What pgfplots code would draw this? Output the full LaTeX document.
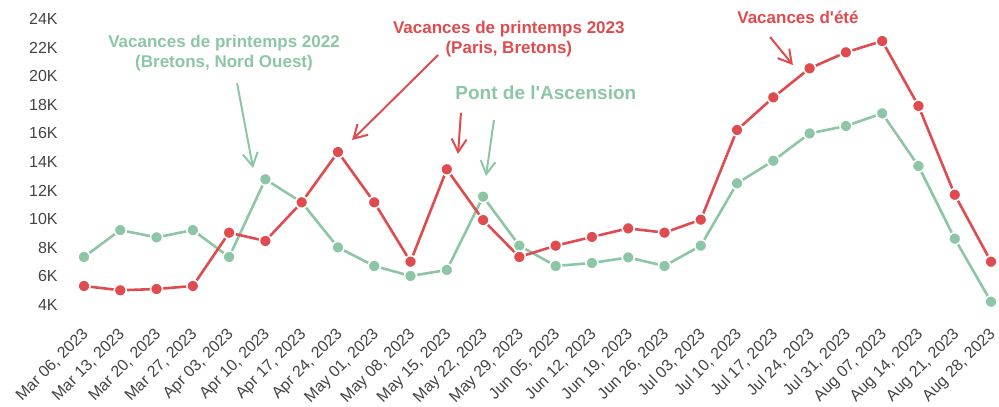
\documentclass[border=0pt]{standalone}
\usepackage{pgfplots}
\usepackage{pgfplotstable}
\pgfplotsset{compat=1.18}
\usepackage{fontspec}
\setmainfont{Liberation Sans}[Ligatures=TeXOff]
\usetikzlibrary{arrows.meta}
\definecolor{cred}{HTML}{E04B4F}
\definecolor{cgreen}{HTML}{8DC6A5}
\definecolor{ctick}{HTML}{444444}

\pgfplotstableread{
i green red
0 7360 5330
1 9240 5030
2 8730 5120
3 9240 5330
4 7360 9060
5 12790 8480
6 11180 11180
7 8030 14700
8 6730 11180
9 6030 7030
10 6450 13490
11 11580 9940
12 8150 7360
13 6730 8150
14 6940 8760
15 7330 9360
16 6730 9060
17 8150 9970
18 12510 16240
19 14090 18520
20 16000 20550
21 16520 21670
22 17400 22460
23 13720 17920
24 8640 11710
25 4230 7030
}\datatable

\tikzset{annarrow/.style={line width=2bp, -{Straight Barb[length=13bp,width=15bp]}}}

\begin{document}
\begin{tikzpicture}
\begin{axis}[
  scale only axis,
  width=925.1bp, height=300.3bp,
  xmin=-0.3, xmax=25.2, ymin=3500, ymax=24500,
  clip=false,
  scaled y ticks=false,
  axis line style={draw=none},
  tick style={draw=none},
  major tick length=0pt,
  ytick={4000,6000,8000,10000,12000,14000,16000,18000,20000,22000,24000},
  yticklabels={4K,6K,8K,10K,12K,14K,16K,18K,20K,22K,24K},
  yticklabel style={font=\fontsize{16bp}{18bp}\selectfont, text=ctick, anchor=east, xshift=-12bp},
  xtick={0,...,25},
  xticklabels={{Mar 06, 2023},{Mar 13, 2023},{Mar 20, 2023},{Mar 27, 2023},{Apr 03, 2023},{Apr 10, 2023},{Apr 17, 2023},{Apr 24, 2023},{May 01, 2023},{May 08, 2023},{May 15, 2023},{May 22, 2023},{May 29, 2023},{Jun 05, 2023},{Jun 12, 2023},{Jun 19, 2023},{Jun 26, 2023},{Jul 03, 2023},{Jul 10, 2023},{Jul 17, 2023},{Jul 24, 2023},{Jul 31, 2023},{Aug 07, 2023},{Aug 14, 2023},{Aug 21, 2023},{Aug 28, 2023}},
  xticklabel style={font=\fontsize{16bp}{18bp}\selectfont, text=ctick, xshift=-3bp, yshift=-13bp, rotate=45, anchor=north east, inner sep=1bp},
]
\addplot[cgreen, line width=2.6bp, mark=*, mark size=6bp, mark options={fill=cgreen, draw=white, line width=1.6bp}] table[x=i, y=green] {\datatable};
\addplot[cred, line width=2.6bp, mark=*, mark size=6bp, mark options={fill=cred, draw=white, line width=1.6bp}] table[x=i, y=red] {\datatable};

% annotations
\node[text=cgreen, font=\fontsize{17bp}{20bp}\selectfont\bfseries, align=center] at (axis cs:3.86,21620) {Vacances de printemps 2022\\(Bretons, Nord Ouest)};
\draw[cgreen, annarrow] (axis cs:4.22,19520) -- (axis cs:4.66,13580);

\node[text=cred, font=\fontsize{17bp}{20bp}\selectfont\bfseries, align=center] at (axis cs:11.71,22570) {Vacances de printemps 2023\\(Paris, Bretons)};
\draw[cred, annarrow] (axis cs:9.76,21480) -- (axis cs:7.39,15540);
\draw[cred, annarrow] (axis cs:10.39,17430) -- (axis cs:10.31,14560);

\node[text=cgreen, font=\fontsize{19bp}{22bp}\selectfont\bfseries] at (axis cs:12.73,18830) {Pont de l'Ascension};
\draw[cgreen, annarrow] (axis cs:11.30,16940) -- (axis cs:11.08,13020);

\node[text=cred, font=\fontsize{17bp}{20bp}\selectfont\bfseries] at (axis cs:19.68,24140) {Vacances d'été};
\draw[cred, annarrow] (axis cs:18.91,22740) -- (axis cs:19.54,20780);

\coordinate (bbl) at (axis cs:-2.315,-3063);
\coordinate (btr) at (axis cs:25.22,25329);
\end{axis}
\pgfresetboundingbox
\path[use as bounding box] (bbl) rectangle (btr);
\end{tikzpicture}
\end{document}
